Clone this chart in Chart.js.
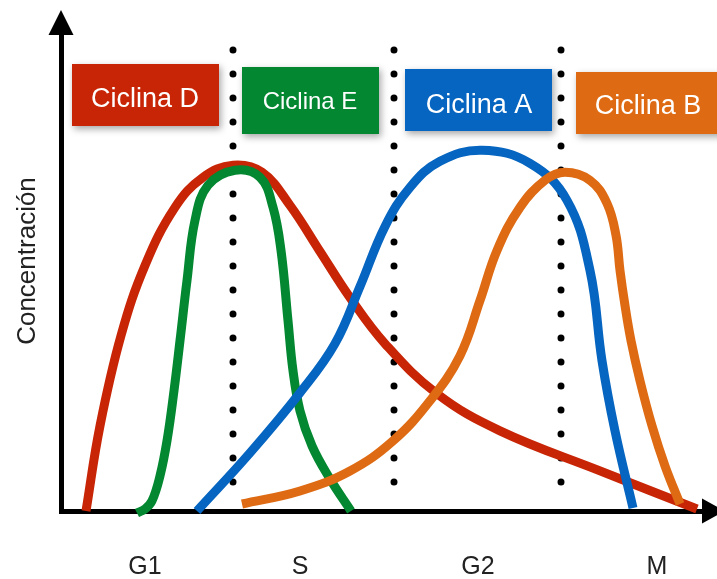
<!DOCTYPE html>
<html>
<head>
<meta charset="utf-8">
<script src="https://cdn.jsdelivr.net/npm/chart.js@4/dist/chart.umd.min.js"></script>
<style>
  body { margin: 0; background: #fff; }
</style>
</head>
<body>
<canvas id="myChart" width="717" height="579"></canvas>
<script>
// cell cycle phases along the time axis
const phaseLabels = ["G1", "S", "G2", "M"];
const phaseCenters = [84, 239, 417, 596];
const phaseBounds = [172, 333, 500];
const boundSpan = [460, 27];

const cyclinNames = ["Ciclina D", "Ciclina E", "Ciclina A", "Ciclina B"];

// concentration curves (time, concentration)
const cyclinD_t = [25, 39, 60, 84, 114, 142, 172, 201, 229, 259, 289, 324, 376, 439, 539, 636];
const cyclinD_c = [0, 85, 175, 245, 303, 333, 345, 338, 305, 259, 213, 167, 117, 80, 40, 2];

const cyclinE_t = [76, 84, 91, 99, 106, 113, 119, 126, 134, 147, 174, 199, 212, 220, 227, 232, 239, 251, 269, 290];
const cyclinE_c = [-2, 2, 10, 35, 70, 120, 170, 230, 290, 325, 340, 333, 303, 260, 190, 140, 100, 65, 32, 0];

const cyclinA_t = [136, 189, 239, 274, 299, 324, 349, 379, 421, 469, 506, 529, 541, 554, 572];
const cyclinA_c = [0, 58, 118, 167, 224, 284, 323, 349, 360, 347, 310, 240, 150, 80, 3];

const cyclinB_t = [181, 239, 289, 332, 369, 399, 419, 436, 459, 484, 504, 529, 546, 555, 559, 564, 570, 579, 591, 604, 619];
const cyclinB_c = [7, 20, 40, 70, 110, 155, 210, 260, 303, 330, 338, 330, 307, 275, 240, 205, 170, 130, 85, 45, 7];

const colors = ["#c82506", "#038731", "#0565c0", "#de6b13"];

const toPoints = (xs, ys) => xs.map((x, i) => ({ x: x, y: ys[i] }));

const curves = [
  [cyclinD_t, cyclinD_c],
  [cyclinE_t, cyclinE_c],
  [cyclinA_t, cyclinA_c],
  [cyclinB_t, cyclinB_c],
];

const curveSets = curves.map((c, i) => ({
  label: cyclinNames[i],
  data: toPoints(c[0], c[1]),
  borderColor: colors[i],
  borderWidth: 9,
  borderCapStyle: "butt",
  tension: 0.4,
  pointRadius: 0,
  fill: false,
  clip: false,
  order: 4 - i,
}));

// dotted phase boundaries
const dotSets = phaseBounds.map((b) => ({
  label: "",
  data: [{ x: b, y: boundSpan[0] }, { x: b, y: boundSpan[1] }],
  borderColor: "#000",
  borderWidth: 7,
  borderDash: [0, 24],
  borderCapStyle: "round",
  pointRadius: 0,
  clip: false,
  order: 10,
}));

// boxes, arrows and the rotated axis name
const decor = {
  id: "decor",
  afterDraw(chart) {
    const ctx = chart.ctx;
    const a = chart.chartArea;
    ctx.save();
    ctx.fillStyle = "#000";
    ctx.beginPath();
    ctx.moveTo(a.left - 12.5, a.top);
    ctx.lineTo(a.left + 12.5, a.top);
    ctx.lineTo(a.left, a.top - 25);
    ctx.closePath();
    ctx.fill();
    ctx.beginPath();
    ctx.moveTo(a.right, a.bottom - 12.5);
    ctx.lineTo(a.right, a.bottom + 12.5);
    ctx.lineTo(a.right + 23, a.bottom);
    ctx.closePath();
    ctx.fill();

    ctx.fillStyle = "#222";
    ctx.font = "26px 'Liberation Sans', sans-serif";
    ctx.textAlign = "center";
    ctx.textBaseline = "alphabetic";
    ctx.translate(35, 261);
    ctx.rotate(-Math.PI / 2);
    ctx.fillText("Concentración", 0, 0);
    ctx.restore();

    const boxes = [
      { x: 72, y: 64, w: 147, h: 62, tx: 145, ty: 107, size: 27 },
      { x: 242, y: 67, w: 137, h: 67, tx: 310, ty: 109, size: 24 },
      { x: 405, y: 69, w: 147, h: 62, tx: 479, ty: 113, size: 27 },
      { x: 576, y: 72, w: 150, h: 62, tx: 648, ty: 114, size: 27 },
    ];
    boxes.forEach((b, i) => {
      ctx.save();
      ctx.shadowColor = "rgba(0,0,0,0.35)";
      ctx.shadowBlur = 7;
      ctx.shadowOffsetX = 2;
      ctx.shadowOffsetY = 3;
      ctx.fillStyle = colors[i];
      ctx.fillRect(b.x, b.y, b.w, b.h);
      ctx.restore();
      ctx.save();
      ctx.fillStyle = "#fff";
      ctx.font = b.size + "px 'Liberation Sans', sans-serif";
      ctx.textAlign = "center";
      ctx.textBaseline = "alphabetic";
      ctx.fillText(cyclinNames[i], b.tx, b.ty);
      ctx.restore();
    });
  },
};

const config = {
  type: "line",
  data: { datasets: curveSets.concat(dotSets) },
  options: {
    responsive: false,
    animation: false,
    layout: { padding: { left: 61, right: 15, top: 35, bottom: -45 } },
    plugins: { legend: { display: false }, tooltip: { enabled: false } },
    scales: {
      x: {
        type: "linear",
        min: 0,
        max: 641,
        grid: { display: false, drawTicks: false },
        border: { display: true, color: "#000", width: 5 },
        afterBuildTicks: (scale) => {
          scale.ticks = phaseCenters.map((v) => ({ value: v }));
        },
        ticks: {
          autoSkip: false,
          maxRotation: 0,
          padding: 44,
          color: "#222",
          font: { family: "'Liberation Sans', sans-serif", size: 25, lineHeight: 1 },
          callback: (value, index) => phaseLabels[index],
        },
      },
      y: {
        min: 0,
        max: 475,
        grid: { display: false, drawTicks: false },
        border: { display: true, color: "#000", width: 5 },
        ticks: { display: false },
      },
    },
  },
  plugins: [decor],
};

const myChart = new Chart(document.getElementById("myChart"), config);
</script>
</body>
</html>
